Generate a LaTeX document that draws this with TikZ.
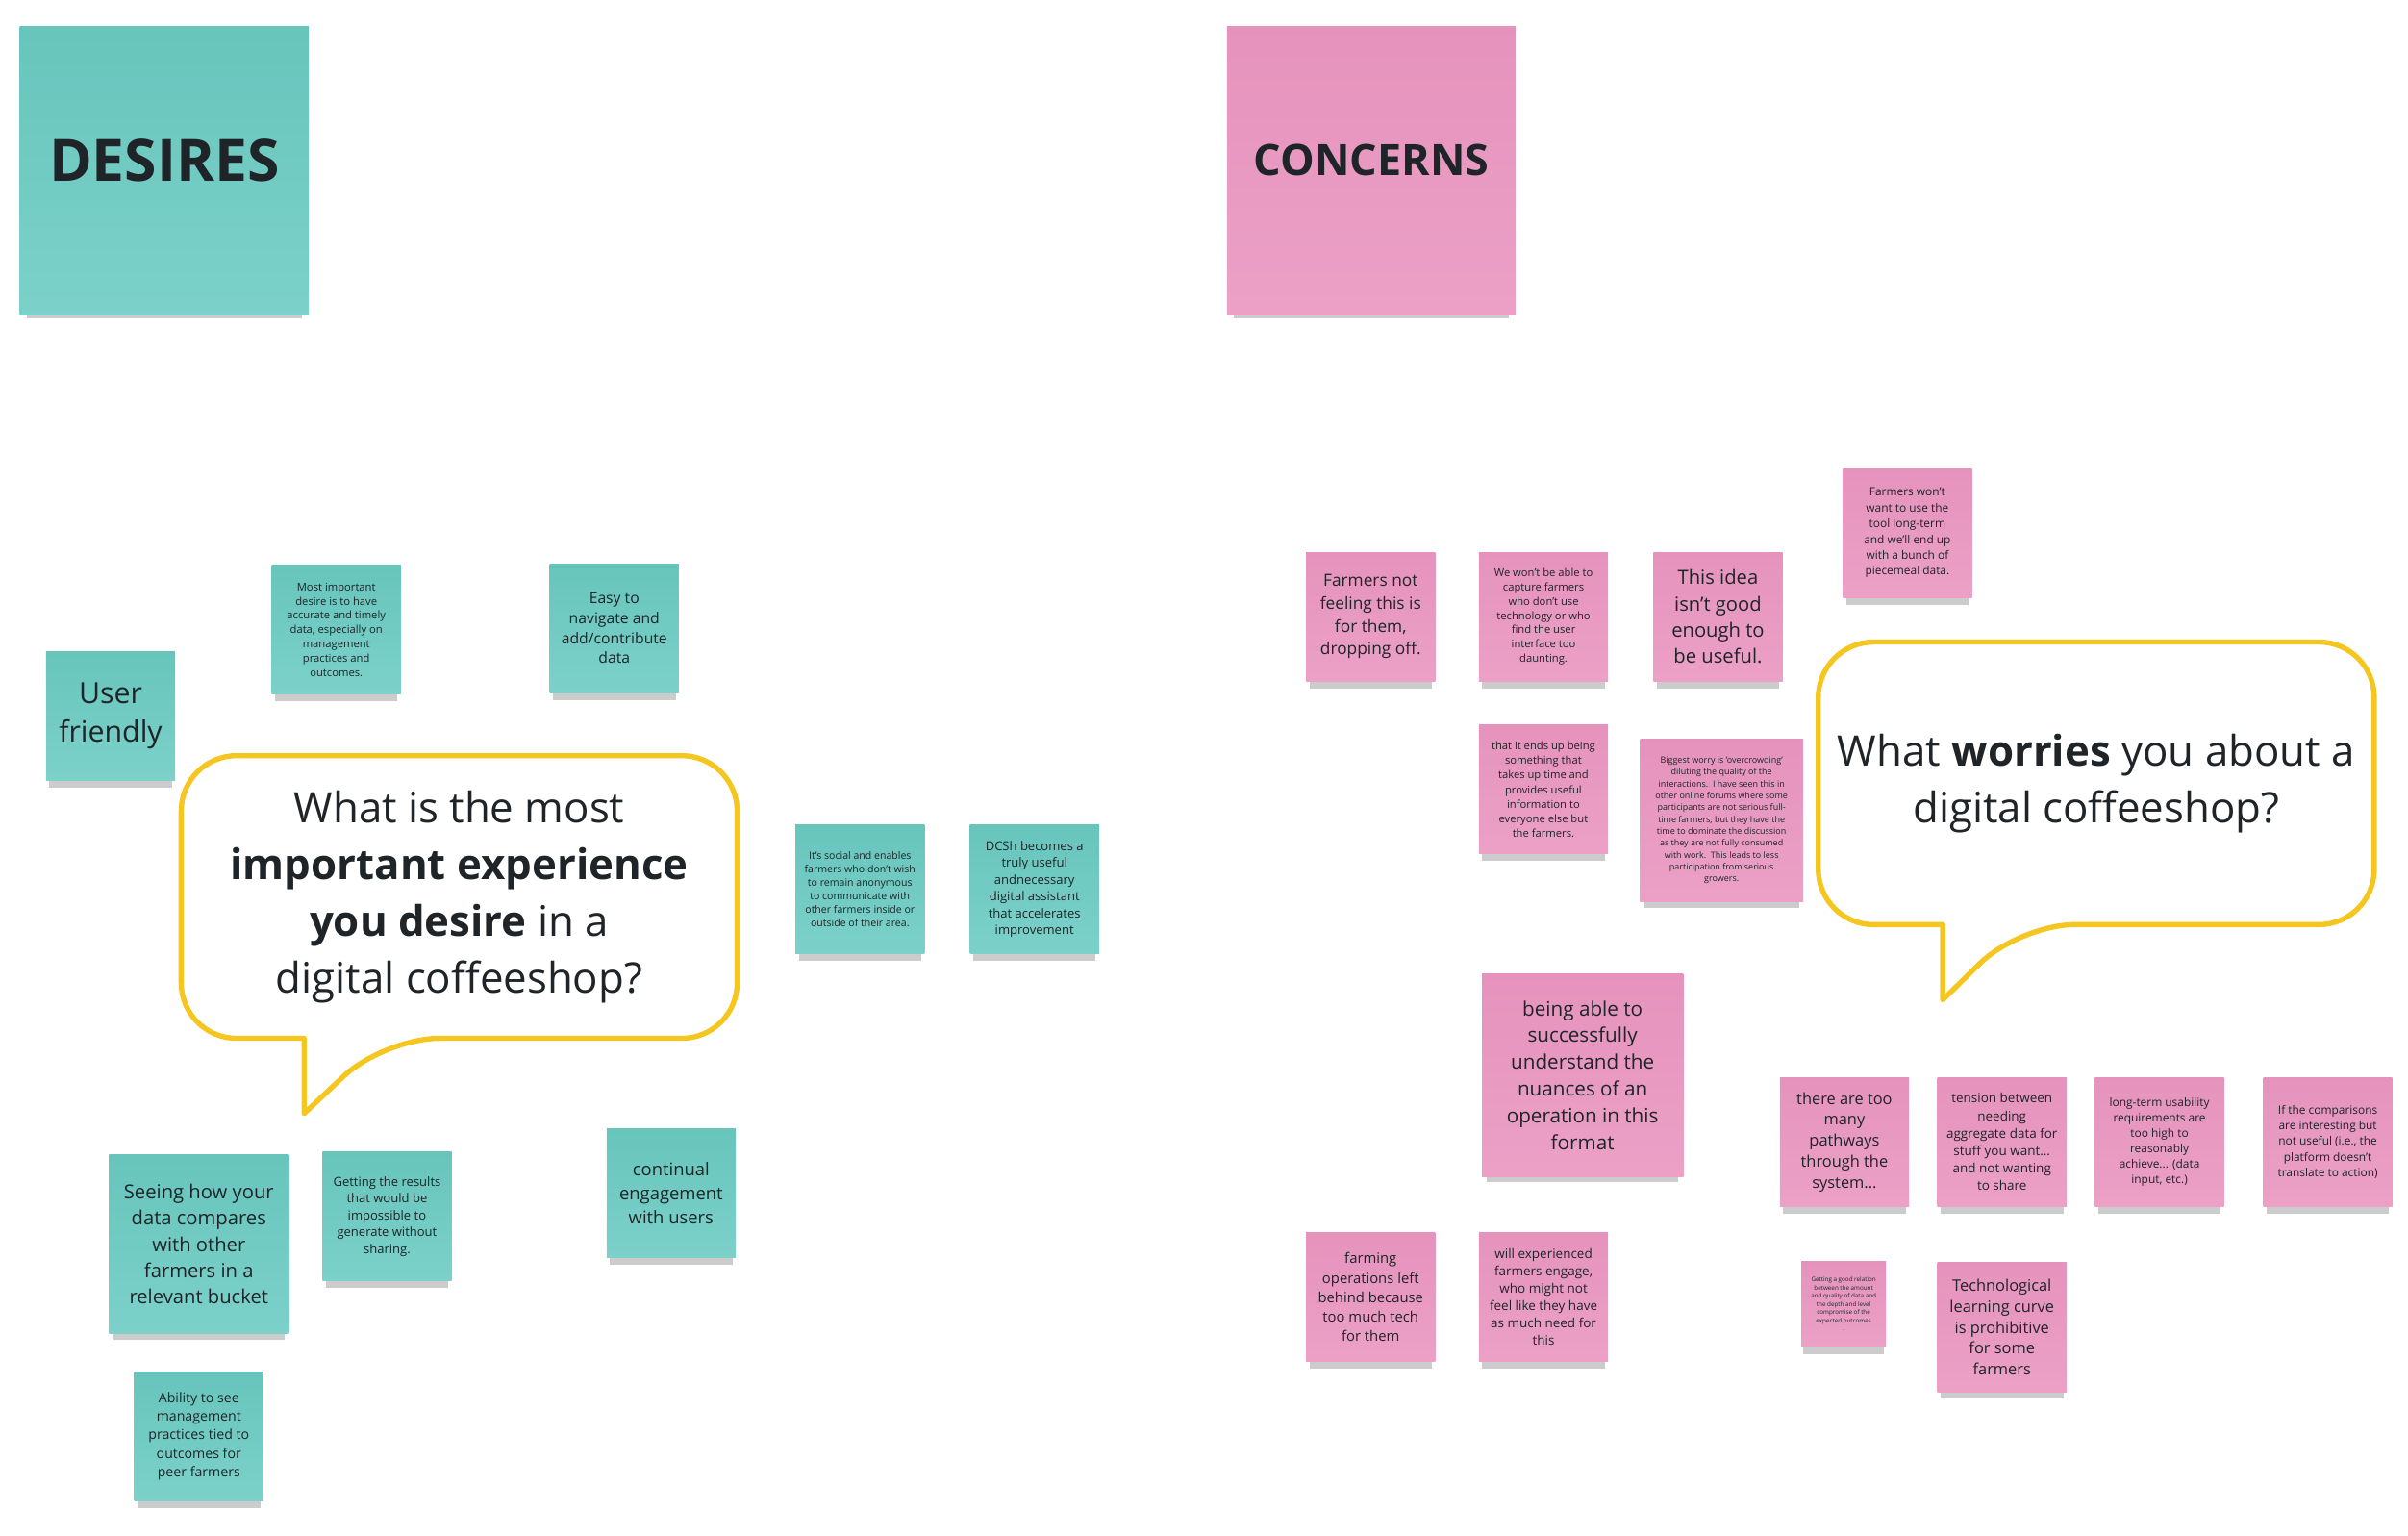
\documentclass[tikz,border=0pt]{standalone}
\usepackage{fontspec}
\setmainfont{Open Sans}
\usetikzlibrary{positioning,shadows}

\definecolor{desirecol}{RGB}{106,203,194}
\definecolor{concerncol}{RGB}{234,150,192}
\definecolor{bubbleline}{RGB}{245,198,32}
\definecolor{ink}{RGB}{30,36,40}

\newcommand{\fsz}[2]{\fontsize{#1}{#2}\selectfont}

\begin{document}
\begin{tikzpicture}[
  x=0.025cm, y=-0.025cm,
  note/.style={rectangle, minimum width=2.1cm, minimum height=2.1cm, inner sep=1pt, align=center, text=ink,
    drop shadow={shadow xshift=0pt, shadow yshift=-5pt, shadow scale=.95, opacity=.4}},
  desire/.style={note, top color=desirecol!97!black, bottom color=desirecol!88!white},
  concern/.style={note, top color=concerncol!98!black, bottom color=concerncol!90!white},
  header/.style={minimum width=4.7cm, minimum height=4.7cm, text depth=0.35cm},
  bubble/.style={draw=bubbleline, line width=2.4pt, fill=white, line join=round},
  ask/.style={align=center, text=ink, font=\fsz{19.5}{26.2}}
]
\useasboundingbox (0,0) rectangle (1568,1000);

% headers
\node[desire, header, font=\fsz{27}{33}\bfseries] (desires) at (107,111) {DESIRES};
\node[concern, header, font=\fsz{20}{26}\bfseries] (concerns) at (893,111) {CONCERNS};

% question bubbles
\draw[bubble] (299,492) [rounded corners=0.9cm] -| (480,584) |- (250,676) [sharp corners] -- (198,725) -- (198,676) [rounded corners=0.9cm] -| (118,584) |- (299,492);
\node[ask] (askdesire) at (299,584) {What is the most\\\textbf{important experience}\\\textbf{you desire} in a\\digital coffeeshop?};

\draw[bubble] (1365,418) [rounded corners=0.9cm] -| (1546,510) |- (1315,602) [sharp corners] -- (1265,651) -- (1265,602) [rounded corners=0.9cm] -| (1184,510) |- (1365,418);
\node[ask] (askworry) at (1365,510) {What \textbf{worries} you about a\\digital coffeeshop?};

% desires
\node[desire, font=\fsz{13.5}{17.5}] (userfriendly) at (72,466) {User\\friendly};
\node[desire, font=\fsz{5}{6.6}] (accurate) at (219,410) {Most important\\desire is to have\\accurate and timely\\data, especially on\\management\\practices and\\outcomes.};
\node[desire, font=\fsz{7}{9.2}] (navigate) at (400,409) {Easy to\\navigate and\\add/contribute\\data};
\node[desire, font=\fsz{4.7}{6.3}] (social) at (560,579) {It's social and enables\\farmers who don't wish\\to remain anonymous\\to communicate with\\other farmers inside or\\outside of their area.};
\node[desire, font=\fsz{5.8}{7.8}, right=0.725cm of social] (assistant) {DCSh becomes a\\truly useful\\andnecessary\\digital assistant\\that accelerates\\improvement};
\node[desire, minimum width=2.925cm, minimum height=2.925cm, font=\fsz{9}{12.2}] (compare) at (129.5,810) {Seeing how your\\data compares\\with other\\farmers in a\\relevant bucket};
\node[desire, font=\fsz{5.8}{7.8}] (results) at (252,792) {Getting the results\\that would be\\impossible to\\generate without\\sharing.};
\node[desire, font=\fsz{8.2}{11.2}] (engagement) at (437,777) {continual\\engagement\\with users};
\node[desire, font=\fsz{6.3}{8.6}] (practices) at (129.5,935) {Ability to see\\management\\practices tied to\\outcomes for\\peer farmers};

% concerns
\node[concern, font=\fsz{7.7}{10.5}] (notforthem) at (892.5,401.5) {Farmers not\\feeling this is\\for them,\\dropping off.};
\node[concern, font=\fsz{5}{6.6}, right=0.7cm of notforthem] (capture) {We won't be able to\\capture farmers\\who don't use\\technology or who\\find the user\\interface too\\daunting.};
\node[concern, font=\fsz{9}{12.2}, right=0.725cm of capture] (notgood) {This idea\\isn't good\\enough to\\be useful.};
\node[concern, font=\fsz{5.3}{7.3}] (piecemeal) at (1242,347) {Farmers won't\\want to use the\\tool long-term\\and we'll end up\\with a bunch of\\piecemeal data.};
\node[concern, font=\fsz{5}{6.7}] (endsup) at (1005,514) {that it ends up being\\something that\\takes up time and\\provides useful\\information to\\everyone else but\\the farmers.};
\node[concern, minimum width=2.65cm, minimum height=2.65cm, font=\fsz{4}{5.5}] (overcrowd) at (1121,534) {Biggest worry is 'overcrowding'\\diluting the quality of the\\interactions.\ \ I have seen this in\\other online forums where some\\participants are not serious full-\\time farmers, but they have the\\time to dominate the discussion\\as they are not fully consumed\\with work.\ \ This leads to less\\participation from serious\\growers.};
\node[concern, minimum width=3.275cm, minimum height=3.3cm, font=\fsz{9.2}{12.4}] (nuances) at (1030.5,700) {being able to\\successfully\\understand the\\nuances of an\\operation in this\\format};
\node[concern, font=\fsz{6.6}{9}] (leftbehind) at (892.5,844.5) {farming\\operations left\\behind because\\too much tech\\for them};
\node[concern, font=\fsz{6}{8}, right=0.7cm of leftbehind] (experienced) {will experienced\\farmers engage,\\who might not\\feel like they have\\as much need for\\this};
\node[concern, font=\fsz{7.3}{9.7}] (pathways) at (1201,743.5) {there are too\\many\\pathways\\through the\\system...};
\node[concern, font=\fsz{6}{8.1}, right=0.45cm of pathways] (tension) {tension between\\needing\\aggregate data for\\stuff you want...\\and not wanting\\to share};
\node[concern, font=\fsz{5.3}{7.2}, right=0.45cm of tension] (usability) {long-term usability\\requirements are\\too high to\\reasonably\\achieve... (data\\input, etc.)};
\node[concern, font=\fsz{5.3}{7.2}, right=0.625cm of usability] (comparisons) {If the comparisons\\are interesting but\\not useful (i.e., the\\platform doesn't\\translate to action)};
\node[concern, minimum width=1.375cm, minimum height=1.375cm, font=\fsz{2.8}{3.8}] (relation) at (1200.5,849) {Getting a good relation\\between the amount\\and quality of data and\\the depth and level\\compromise of the\\expected outcomes\\.};
\node[concern, font=\fsz{7.3}{9.7}, below=0.9cm of tension] (curve) {Technological\\learning curve\\is prohibitive\\for some\\farmers};
\end{tikzpicture}
\end{document}
